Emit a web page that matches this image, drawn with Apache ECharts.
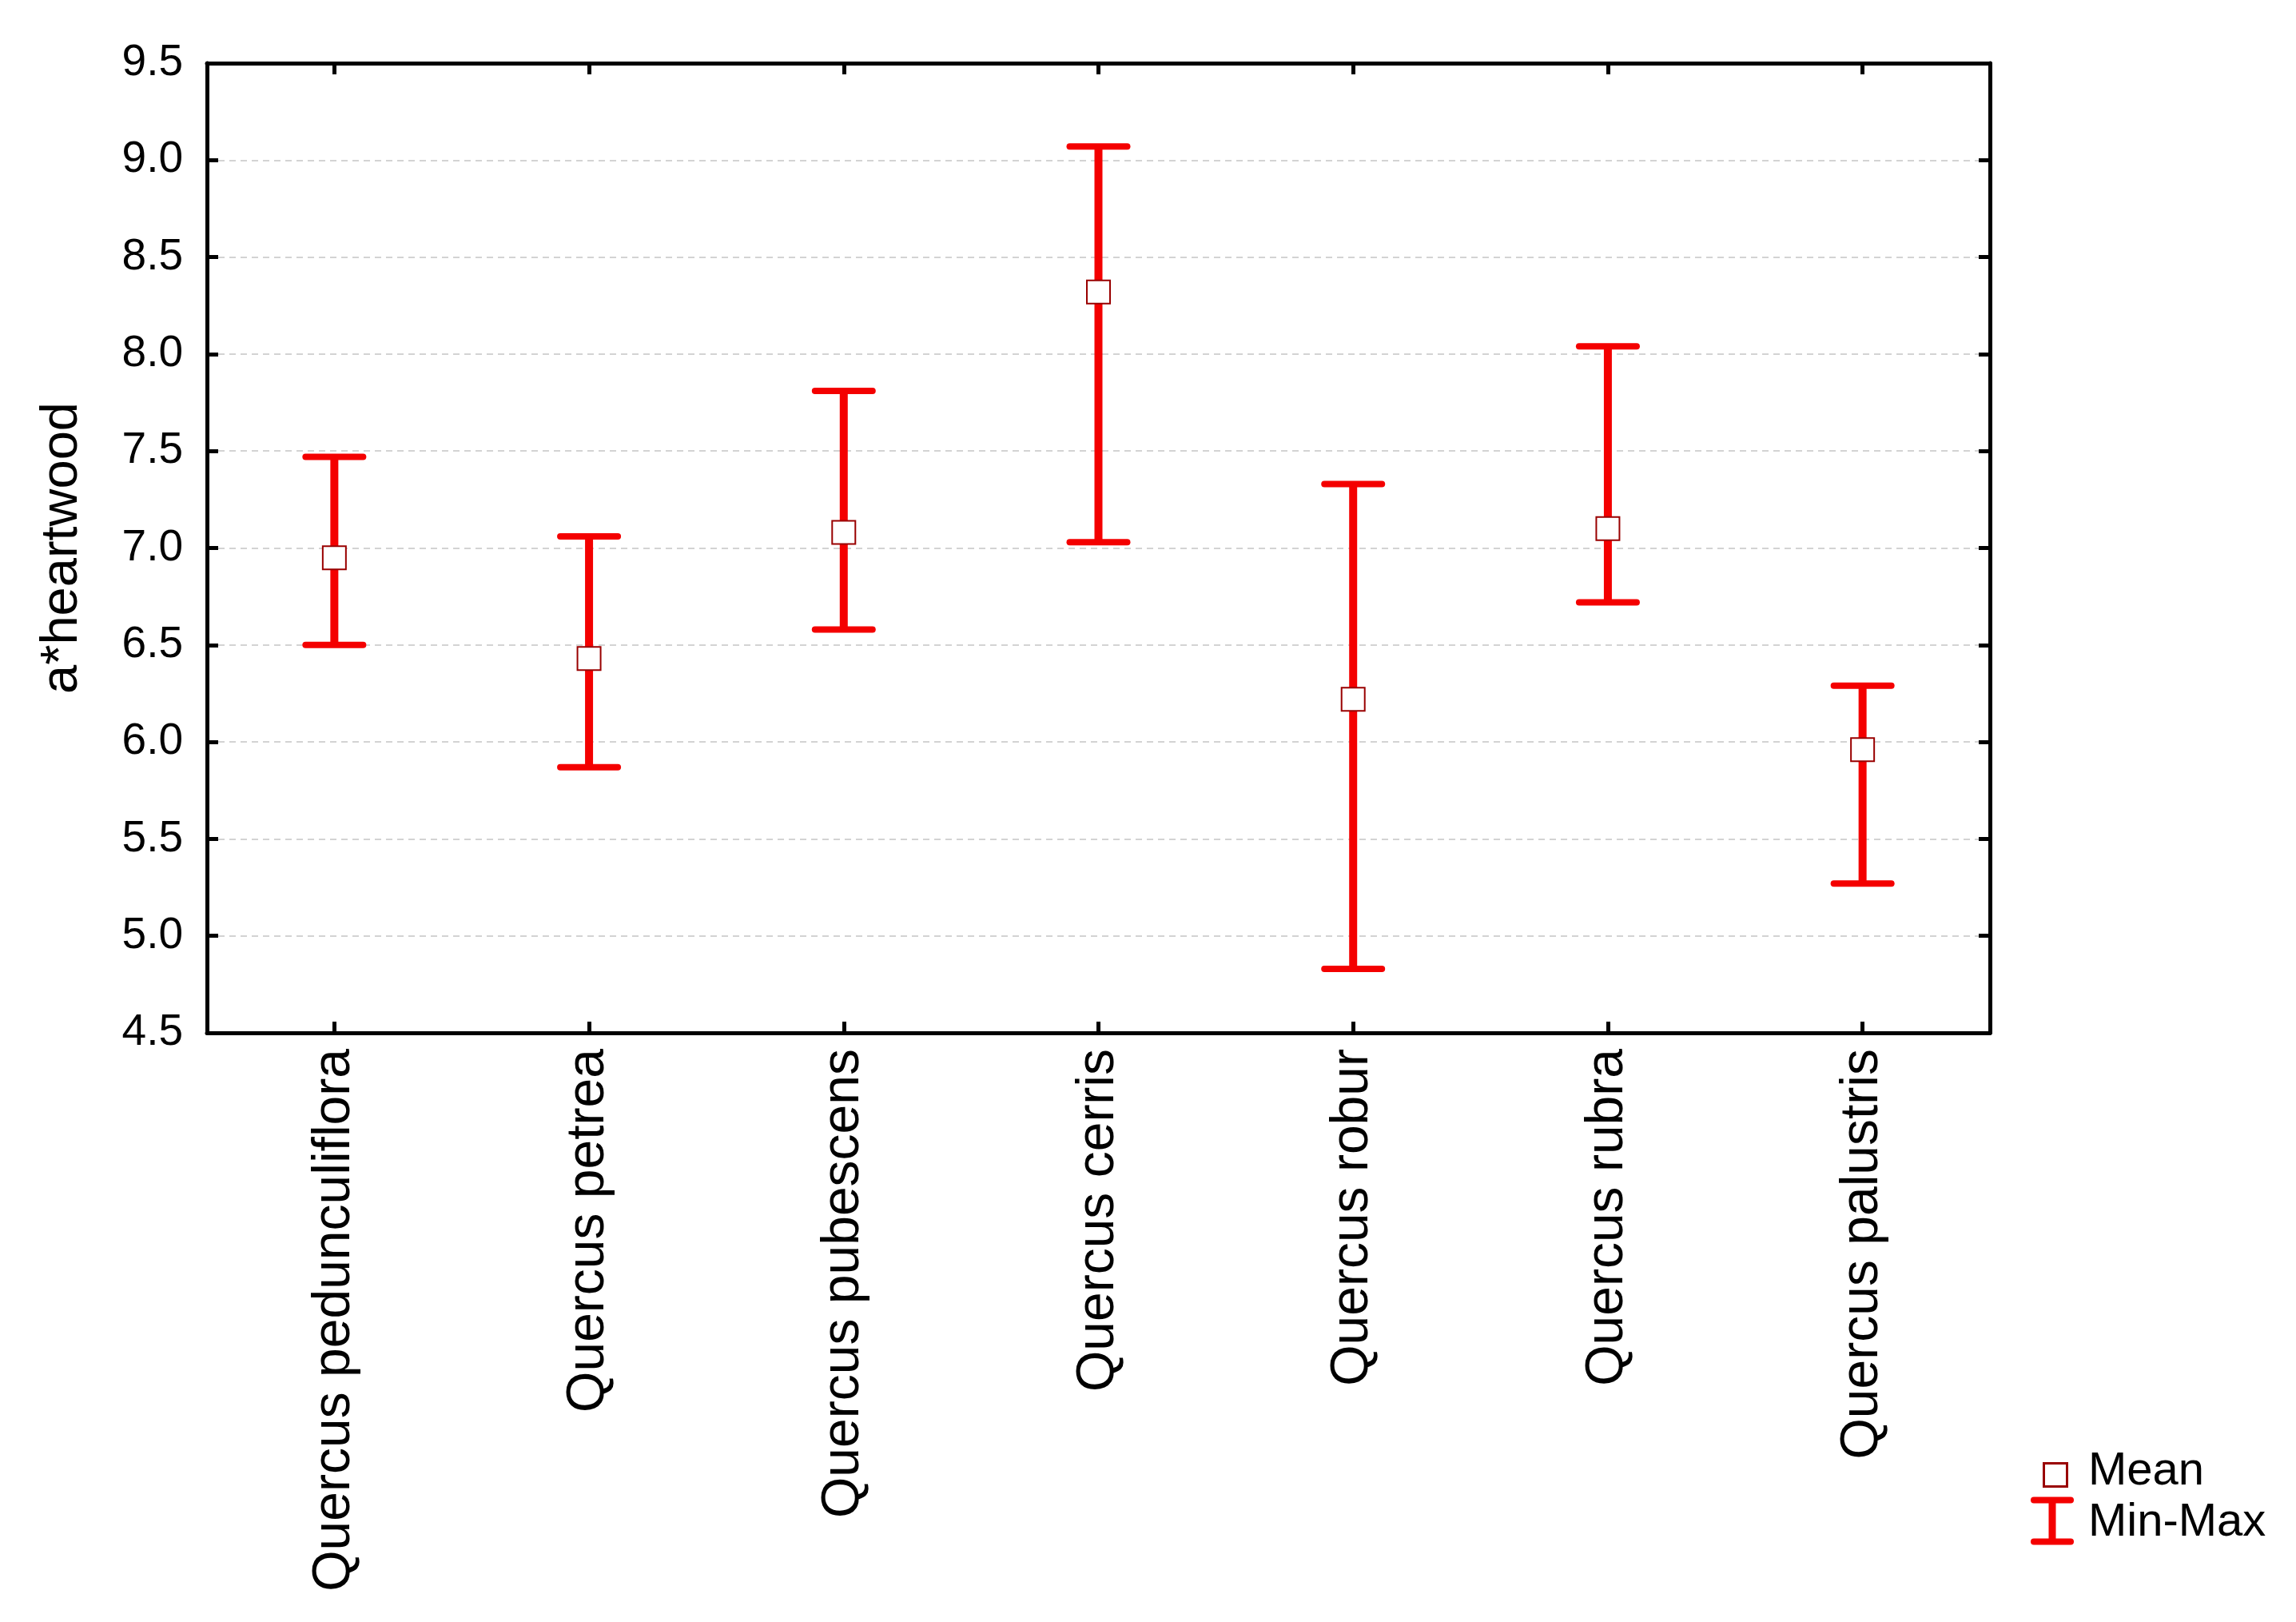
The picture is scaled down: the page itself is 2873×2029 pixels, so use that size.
<!DOCTYPE html>
<html>
<head>
<meta charset="utf-8">
<script src="https://cdn.jsdelivr.net/npm/echarts@6/dist/echarts.min.js"></script>
<style>
html,body{margin:0;padding:0;background:#fff;}
#chart{width:2873px;height:2029px;}
</style>
</head>
<body>
<div id="chart"></div>
<script>
const categories = ['Quercus pedunculiflora','Quercus petrea','Quercus pubescens','Quercus cerris','Quercus robur','Quercus rubra','Quercus palustris'];
const meanValues = [6.95, 6.43, 7.08, 8.32, 6.22, 7.10, 5.96];
const minValues  = [6.50, 5.87, 6.58, 7.03, 4.83, 6.72, 5.27];
const maxValues  = [7.47, 7.06, 7.81, 9.07, 7.33, 8.04, 6.29];
const yTicks = [4.5, 5.0, 5.5, 6.0, 6.5, 7.0, 7.5, 8.0, 8.5, 9.0, 9.5];

const RED = '#f40000';
const DARKRED = '#990000';
const FONT = '"Liberation Sans", Arial, sans-serif';

const chart = echarts.init(document.getElementById('chart'), null, {renderer:'canvas'});

const errData = categories.map((c,i)=>[i, minValues[i], maxValues[i]]);

const option = {
  backgroundColor:'#fff',
  animation:false,
  grid:{left:259, top:79, right:383, bottom:737, containLabel:false},
  xAxis:[{
    type:'category', data:categories, position:'bottom', boundaryGap:true,
    axisLine:{show:true, onZero:false, lineStyle:{color:'#000', width:5}},
    axisTick:{show:true, inside:true, alignWithLabel:true, length:14, lineStyle:{color:'#000', width:5}},
    axisLabel:{rotate:90, color:'#000', fontSize:66, fontFamily:FONT, margin:20, interval:0},
    splitLine:{show:false}
  },{
    type:'category', data:categories, position:'top', boundaryGap:true,
    axisLine:{show:true, onZero:false, lineStyle:{color:'#000', width:5}},
    axisTick:{show:true, inside:true, alignWithLabel:true, length:14, lineStyle:{color:'#000', width:5}},
    axisLabel:{show:false}, splitLine:{show:false}
  }],
  yAxis:[{
    type:'value', min:yTicks[0], max:yTicks[yTicks.length-1], interval:0.5, position:'left',
    name:'a*heartwood', nameLocation:'middle', nameGap:148, nameRotate:90,
    nameTextStyle:{color:'#000', fontSize:65, fontFamily:FONT},
    axisLine:{show:true, onZero:false, lineStyle:{color:'#000', width:5}},
    axisTick:{show:true, inside:true, length:14, lineStyle:{color:'#000', width:5}},
    axisLabel:{color:'#000', fontSize:55, fontFamily:FONT, margin:30, formatter:v=>v.toFixed(1)},
    splitLine:{show:true, lineStyle:{color:'#d3d3d3', width:2, type:[8,6]}}
  },{
    type:'value', min:yTicks[0], max:yTicks[yTicks.length-1], interval:0.5, position:'right',
    axisLine:{show:true, onZero:false, lineStyle:{color:'#000', width:5}},
    axisTick:{show:true, inside:true, length:14, lineStyle:{color:'#000', width:5}},
    axisLabel:{show:false}, splitLine:{show:false}
  }],
  series:[{
    name:'Min-Max', type:'custom', xAxisIndex:0, yAxisIndex:0, z:3,
    data:errData,
    renderItem:function(params, api){
      const x = api.value(0);
      const pLo = api.coord([x, api.value(1)]);
      const pHi = api.coord([x, api.value(2)]);
      const hw = 36;
      return {type:'group', children:[
        {type:'line', shape:{x1:pLo[0], y1:pLo[1], x2:pHi[0], y2:pHi[1]}, style:{stroke:RED, lineWidth:10}},
        {type:'line', shape:{x1:pHi[0]-hw, y1:pHi[1], x2:pHi[0]+hw, y2:pHi[1]}, style:{stroke:RED, lineWidth:8, lineCap:'round'}},
        {type:'line', shape:{x1:pLo[0]-hw, y1:pLo[1], x2:pLo[0]+hw, y2:pLo[1]}, style:{stroke:RED, lineWidth:8, lineCap:'round'}}
      ]};
    }
  },{
    name:'Mean', type:'scatter', xAxisIndex:0, yAxisIndex:0, z:5,
    data:meanValues, symbol:'rect', symbolSize:29,
    itemStyle:{color:'#fff', borderColor:DARKRED, borderWidth:2, opacity:1}
  }],
  graphic:[
    {type:'rect', left:2556, top:1829, shape:{width:29, height:29}, style:{fill:'#fff', stroke:DARKRED, lineWidth:3}},
    {type:'text', left:2613, top:1812, style:{text:'Mean', fill:'#000', font:'58px '+FONT}},
    {type:'group', left:2541, top:1872, children:[
      {type:'line', shape:{x1:4, y1:4, x2:50, y2:4}, style:{stroke:RED, lineWidth:8, lineCap:'round'}},
      {type:'line', shape:{x1:4, y1:56, x2:50, y2:56}, style:{stroke:RED, lineWidth:8, lineCap:'round'}},
      {type:'line', shape:{x1:27, y1:4, x2:27, y2:56}, style:{stroke:RED, lineWidth:9}}
    ]},
    {type:'text', left:2613, top:1876, style:{text:'Min-Max', fill:'#000', font:'58px '+FONT}}
  ]
};
chart.setOption(option);
</script>
</body>
</html>
